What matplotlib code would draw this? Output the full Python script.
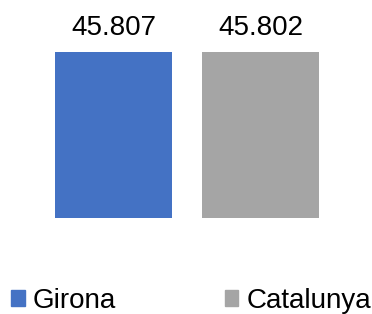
import matplotlib.pyplot as plt
from matplotlib.patches import Patch

plt.rcParams['font.family'] = ['Liberation Sans', 'DejaVu Sans']

# ======================
# Data
# ======================
categories = ["Girona", "Catalunya"]
values = [45807, 45802]
colors = ["#4472C4", "#A5A5A5"]

# ======================
# Plot
# ======================
fig = plt.figure(figsize=(3.72, 3.14), dpi=100)
ax = fig.add_axes([0, 96 / 314, 1, 166 / 314])

x = list(range(len(categories)))
bars = ax.bar(x, values, width=0.796, color=colors)
ax.set_xlim(-113.5 / 147, (372 - 113.5) / 147)
ax.set_ylim(0, max(values))

labels = [f"{v:,}".replace(",", ".") for v in values]
ax.bar_label(bars, labels=labels, padding=8, fontsize=20, color="#000000")

ax.axis("off")

handles = [Patch(color=c) for c in colors]
fig.legend(handles, categories, loc="lower left", bbox_to_anchor=(11 / 372, 0),
           ncol=2, frameon=False, fontsize=20, handlelength=0.5,
           handleheight=0.5, handletextpad=0.29, columnspacing=3.9,
           borderpad=0, borderaxespad=0)

fig.savefig("out.png", dpi=100)
